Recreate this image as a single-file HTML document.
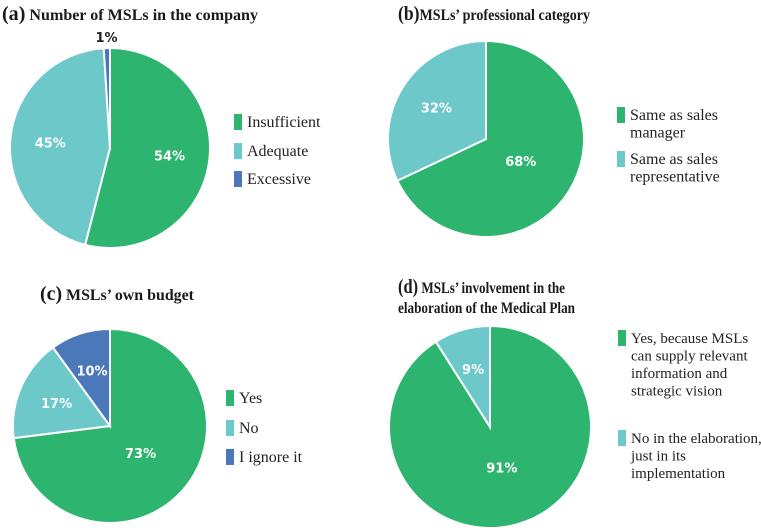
<!DOCTYPE html>
<html><head><meta charset="utf-8"><style>
html,body{margin:0;padding:0;background:#fff;width:761px;height:530px;overflow:hidden}
svg{display:block}
.t{font-family:"Liberation Serif",serif;font-weight:bold;font-size:16px;fill:#1a1a1a}
.l{font-family:"Liberation Serif",serif;font-size:16px;fill:#222}
.p{font-family:"DejaVu Sans","Liberation Sans",sans-serif;font-weight:bold;font-size:13px;fill:#fff}
</style></head><body>
<svg id="s" width="761" height="530">
<text class="t" x="2" y="20" textLength="256" lengthAdjust="spacingAndGlyphs"><tspan font-size="20">(a)</tspan> Number of MSLs in the company</text>
<text class="t" x="398" y="20" textLength="192" lengthAdjust="spacingAndGlyphs"><tspan font-size="20">(b)</tspan>MSLs’ professional category</text>
<text class="t" x="40" y="300" textLength="154" lengthAdjust="spacingAndGlyphs"><tspan font-size="20">(c)</tspan> MSLs’ own budget</text>
<text class="t" x="398" y="293" textLength="167" lengthAdjust="spacingAndGlyphs"><tspan font-size="20">(d)</tspan> MSLs’ involvement in the</text>
<text class="t" x="398" y="313" textLength="177" lengthAdjust="spacingAndGlyphs">elaboration of the Medical Plan</text>
</svg>
<script>
const colors=["#2db46e","#6cc8c9","#4a78b8"];
const valuesA=[54,45,1];
const labelsA=["Insufficient","Adequate","Excessive"];
const valuesB=[68,32];
const labelsB=[["Same as sales","manager"],["Same as sales","representative"]];
const valuesC=[73,17,10];
const labelsC=["Yes","No","I ignore it"];
const valuesD=[91,9];
const labelsD=[["Yes, because MSLs","can supply relevant","information and","strategic vision"],["No in the elaboration,","just in its","implementation"]];
const svg=document.getElementById('s');
const NS="http://www.w3.org/2000/svg";
function mk(t,a){const e=document.createElementNS(NS,t);for(const k in a)e.setAttribute(k,a[k]);svg.appendChild(e);return e;}
function pie(id,vals,cx,cy,r,outsideSmall){
  const tot=vals.reduce((a,b)=>a+b,0);let ang=0;
  vals.forEach((v,i)=>{
    const a0=ang/tot*2*Math.PI,a1=(ang+v)/tot*2*Math.PI;ang+=v;
    const x0=cx+r*Math.sin(a0),y0=cy-r*Math.cos(a0),x1=cx+r*Math.sin(a1),y1=cy-r*Math.cos(a1);
    const large=(a1-a0)>Math.PI?1:0;
    const p=mk('path',{d:`M${cx},${cy}L${x0},${y0}A${r},${r} 0 ${large} 1 ${x1},${y1}Z`,fill:colors[i],stroke:'#fff','stroke-width':2});
    
    
    const m=(a0+a1)/2;let f=v/tot>0.6?0.42:0.6;let fill='#fff';
    if(outsideSmall&&v<3){f=1.11;fill='#222';}
    const t=mk('text',{x:cx+f*r*Math.sin(m),y:cy-f*r*Math.cos(m)+5,class:'p','text-anchor':'middle',style:'fill:'+fill});
    t.textContent=v+'%';
    
    
  });
}
function legend(id,labels,x,ys,fs){
  labels.forEach((lab,i)=>{
    const lines=Array.isArray(lab)?lab:[lab];
    const r=mk('rect',{x:x,y:ys[i]-8,width:8,height:16,fill:colors[i]});
    
    
    lines.forEach((ln,j)=>{
      const t=mk('text',{x:x+13,y:ys[i]+5+j*17.5,class:'l','font-size':fs,style:'font-size:'+fs+'px'});
      t.textContent=ln;
      
      
    });
  });
}
pie('a',valuesA,110,148,100,true);
legend('a',labelsA,234,[122,151,179],16);
pie('b',valuesB,486,139,98,false);
legend('b',labelsB,617,[115,159],16);
pie('c',valuesC,110,426,97,false);
legend('c',labelsC,226,[398,428,457],16);
pie('d',valuesD,490,427,101,false);
legend('d',[labelsD[0],labelsD[1]],618,[338,438],15);
</script>
</body></html>
